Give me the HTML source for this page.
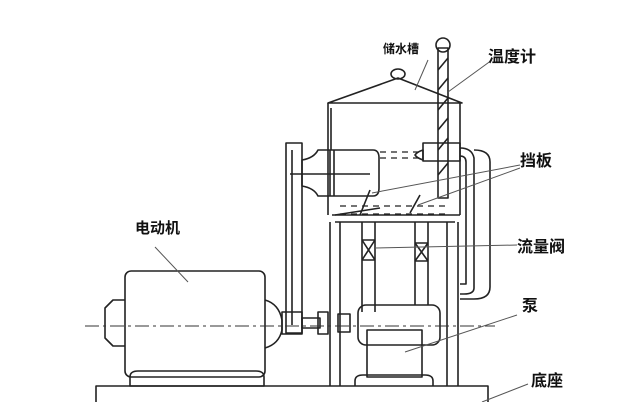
<!DOCTYPE html>
<html><head><meta charset="utf-8"><style>
html,body{margin:0;padding:0;background:#fff;}
svg{display:block}
text{font-family:"Liberation Sans","Noto Sans CJK SC",sans-serif;fill:#111;font-weight:bold}
</style></head><body>
<svg width="640" height="402" viewBox="0 0 640 402" xmlns="http://www.w3.org/2000/svg">
<g fill="none" stroke="#222" stroke-width="1.6" stroke-linejoin="round">
<!-- base -->
<rect x="96" y="386" width="392" height="20"/>
<!-- motor -->
<rect x="125" y="271" width="140" height="106" rx="6"/>
<path d="M125 300 h-12 l-8 8 v30 l8 8 h12"/>
<path d="M265 300 q14 4 17 20 v10 q-3 14 -17 18"/>
<path d="M130 377 q0 -6 8 -6 h118 q8 0 8 6 v9 h-134z"/>
<!-- shaft & coupling -->
<rect x="282" y="312" width="20" height="22"/>
<rect x="302" y="318" width="18" height="10"/>
<rect x="318" y="312" width="10" height="22"/>
<rect x="338" y="314" width="12" height="18"/>
<!-- belt -->
<rect x="286" y="143" width="16" height="190"/>
<line x1="292" y1="150" x2="292" y2="325"/>
<!-- drum -->
<path d="M302 160 q12 -2 16 -10 h55 q6 0 6 8 v30 q0 8 -6 8 h-55 q-4 -8 -16 -10z"/>
<line x1="290" y1="174" x2="370" y2="174"/>
<line x1="330" y1="150" x2="330" y2="196"/><line x1="334" y1="150" x2="334" y2="196"/>
<!-- tank -->
<path d="M328 103 L398 78 L462 103 Z"/>
<ellipse cx="398" cy="74" rx="7" ry="5"/>
<line x1="328" y1="103" x2="328" y2="215"/><line x1="460" y1="103" x2="460" y2="215"/>
<line x1="331" y1="108" x2="331" y2="150"/>
<path d="M332 215 h128 M335 222 h120"/>
<g stroke-dasharray="6,5" stroke-width="1.2"><path d="M340 206 h110 M340 214 h110 M380 152 h40 M380 158 h40"/></g>
<path d="M335 215 L380 208 M370 190 l-10 25 M420 195 l-10 18"/>
<!-- thermometer -->
<circle cx="443" cy="45" r="7"/>
<rect x="438" y="48" width="10" height="150"/>
<path d="M438 70 l10 -12 M438 90 l10 -12 M438 110 l10 -12 M438 130 l10 -12 M438 150 l10 -12 M438 175 l10 -12"/>
<!-- nozzle -->
<path d="M423 150 q-6 2 -8 5 q2 3 8 5 z"/><rect x="423" y="143" width="37" height="18"/>
<path d="M460 148 q12 0 14 10 h0 v130 q0 6 -10 6 h-4 M460 156 q6 0 6 6 v122 h-6"/>
<path d="M474 150 q16 0 16 12 v125 q0 12 -16 12 h-14"/>
<!-- legs -->
<line x1="330" y1="222" x2="330" y2="386"/><line x1="340" y1="222" x2="340" y2="386"/>
<line x1="447" y1="222" x2="447" y2="386"/><line x1="458" y1="222" x2="458" y2="386"/>
<!-- pipes -->
<line x1="362" y1="222" x2="362" y2="312"/><line x1="375" y1="222" x2="375" y2="312"/>
<line x1="415" y1="222" x2="415" y2="305"/><line x1="428" y1="222" x2="428" y2="305"/>
<path d="M362 240 l13 20 M375 240 l-13 20 M362 240 h13 M362 260 h13"/>
<path d="M415 243 l13 18 M428 243 l-13 18 M415 243 h13 M415 261 h13"/>
<!-- pump -->
<rect x="358" y="305" width="82" height="40" rx="8"/>
<rect x="367" y="330" width="55" height="47"/>
<path d="M355 386 v-5 q0 -6 8 -6 h62 q8 0 8 6 v5"/>
</g>
<line x1="85" y1="326" x2="495" y2="326" stroke="#333" stroke-width="1" stroke-dasharray="14,4,3,4"/>
<g stroke="#555" stroke-width="1">
<line x1="428" y1="60" x2="415" y2="90"/>
<line x1="492" y1="60" x2="448" y2="92"/>
<line x1="520" y1="165" x2="372" y2="193"/>
<line x1="520" y1="168" x2="418" y2="205"/>
<line x1="517" y1="245" x2="375" y2="248"/>
<line x1="517" y1="315" x2="405" y2="352"/>
<line x1="528" y1="384" x2="482" y2="402"/>
<line x1="155" y1="247" x2="188" y2="282"/>
</g>
<text x="383" y="53" font-size="12">储水槽</text>
<text x="488" y="62" font-size="16">温度计</text>
<text x="520" y="166" font-size="16">挡板</text>
<text x="517" y="252" font-size="16">流量阀</text>
<text x="522" y="311" font-size="16">泵</text>
<text x="531" y="386" font-size="16">底座</text>
<text x="135" y="233" font-size="15">电动机</text>
</svg>
</body></html>
